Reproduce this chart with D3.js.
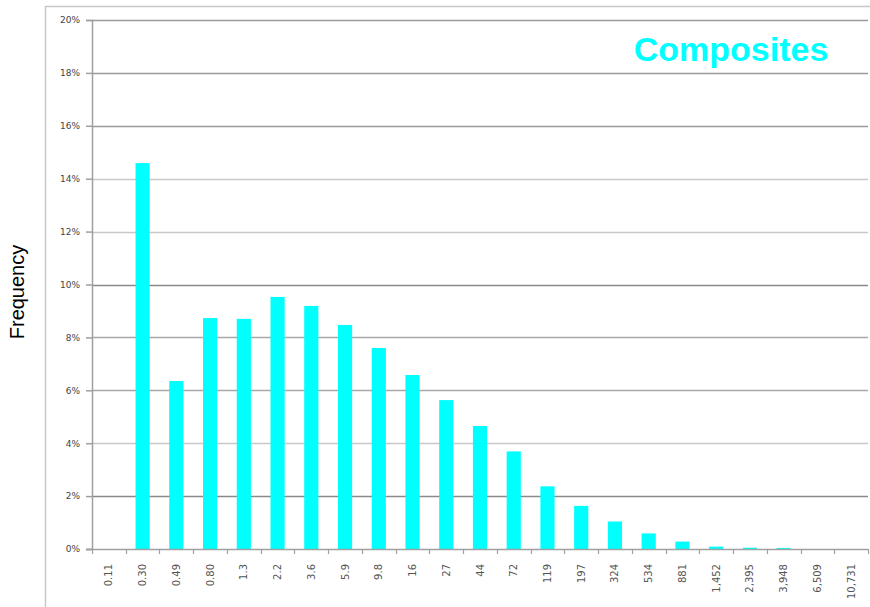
<!DOCTYPE html>
<html>
<head>
<meta charset="utf-8">
<script src="https://cdn.jsdelivr.net/npm/d3@7/dist/d3.min.js"></script>
<style>
  html, body { margin: 0; padding: 0; background: #fff; }
  svg { display: block; }
</style>
</head>
<body>
<svg id="chart" width="870" height="607"></svg>
<script>
const categories = ["0.11","0.30","0.49","0.80","1.3","2.2","3.6","5.9","9.8","16","27","44","72","119","197","324","534","881","1,452","2,395","3,948","6,509","10,731"];
const frequency = [0, 0.1459, 0.0635, 0.0873, 0.0870, 0.0953, 0.0919, 0.0847, 0.0760, 0.0658, 0.0563, 0.0465, 0.0369, 0.0237, 0.0163, 0.0104, 0.0059, 0.0028, 0.0009, 0.0005, 0.0004, 0, 0];
const yTicks = [0, 0.02, 0.04, 0.06, 0.08, 0.10, 0.12, 0.14, 0.16, 0.18, 0.20];
const yTickLabels = ["0%","2%","4%","6%","8%","10%","12%","14%","16%","18%","20%"];
const titleText = "Composites";
const yAxisTitle = "Frequency";

const svg = d3.select("#chart");
const pLeft = 92, pRight = 868, pTop = 20, pBottom = 549;

const x = d3.scaleBand().domain(categories).range([pLeft, pRight]).padding(0);
const y = d3.scaleLinear().domain([0, 0.20]).range([pBottom, pTop]);

// outer frame
svg.append("line").attr("x1", 45.5).attr("x2", 45.5).attr("y1", 6).attr("y2", 607)
  .attr("stroke", "#c8c8c8").attr("stroke-width", 1.5);
svg.append("line").attr("x1", 45).attr("x2", 870).attr("y1", 6.5).attr("y2", 6.5)
  .attr("stroke", "#c8c8c8").attr("stroke-width", 1.5);

// gridlines
const gridColor = v => {
  const p = Math.round(v * 100);
  if (p === 10 || p === 2) return "#8a8a8a";
  if (p === 20 || p === 18 || p === 16) return "#9a9a9a";
  if (p === 8 || p === 6) return "#a8a8a8";
  return "#c8c8c8";
};
svg.append("g").selectAll("line").data(yTicks.filter(v => v > 0)).join("line")
  .attr("x1", pLeft).attr("x2", pRight)
  .attr("y1", d => Math.round(y(d)) + 0.5).attr("y2", d => Math.round(y(d)) + 0.5)
  .attr("stroke", d => gridColor(d)).attr("stroke-width", 1.5);

// title backdrop
svg.append("rect").attr("x", 616).attr("y", 24).attr("width", 232).attr("height", 48)
  .attr("fill", "#fff").attr("opacity", 0.6);
svg.append("text").attr("x", 731).attr("y", 61)
  .attr("text-anchor", "middle")
  .attr("font-family", "Liberation Sans, Arial, sans-serif")
  .attr("font-weight", "bold").attr("font-size", 34)
  .attr("fill", "#00ffff").text(titleText);

// y axis
const yAxis = d3.axisLeft(y).tickValues(yTicks)
  .tickFormat((d, i) => yTickLabels[i]).tickSize(6).tickPadding(6);
const gy = svg.append("g").attr("transform", `translate(${pLeft},0)`).call(yAxis);
gy.select(".domain").attr("stroke", "#a0a0a0").attr("stroke-width", 1.5);
gy.selectAll(".tick line").attr("stroke", "#a0a0a0").attr("stroke-width", 1.5);
gy.selectAll(".tick text")
  .attr("font-family", "DejaVu Sans, Verdana, sans-serif")
  .attr("font-size", 9).attr("fill", "#444");

// bars
const bw = x.bandwidth() * 0.42;
svg.append("g").selectAll("rect").data(categories).join("rect")
  .attr("x", d => x(d) + (x.bandwidth() - bw) / 2)
  .attr("width", bw)
  .attr("y", (d, i) => y(frequency[i]))
  .attr("height", (d, i) => y(0) - y(frequency[i]))
  .attr("fill", "#00ffff");

// x axis line
svg.append("line").attr("x1", pLeft - 6).attr("x2", pRight).attr("y1", pBottom + 0.5).attr("y2", pBottom + 0.5)
  .attr("stroke", "#a0a0a0").attr("stroke-width", 1.5);
// category boundary ticks
const bounds = categories.map(c => x(c)).concat([pRight]);
svg.append("g").selectAll("line").data(bounds).join("line")
  .attr("x1", d => Math.round(d) + 0.5).attr("x2", d => Math.round(d) + 0.5)
  .attr("y1", pBottom).attr("y2", pBottom + 5)
  .attr("stroke", "#a0a0a0").attr("stroke-width", 1.2);

// x labels
const xAxis = d3.axisBottom(x).tickSize(0).tickPadding(0);
const gx = svg.append("g").attr("transform", `translate(0,${pBottom})`).call(xAxis);
gx.select(".domain").remove();
gx.selectAll(".tick text")
  .attr("font-family", "DejaVu Sans, Verdana, sans-serif")
  .attr("font-size", 10).attr("fill", "#555")
  .attr("text-anchor", "end")
  .attr("transform", "rotate(-90)")
  .attr("x", -15).attr("y", 0).attr("dy", "0.35em");

// y axis title
svg.append("text")
  .attr("transform", "translate(24,292) rotate(-90)")
  .attr("text-anchor", "middle")
  .attr("font-family", "Liberation Sans, Arial, sans-serif")
  .attr("font-size", 20).attr("fill", "#000")
  .text(yAxisTitle);
</script>
</body>
</html>
